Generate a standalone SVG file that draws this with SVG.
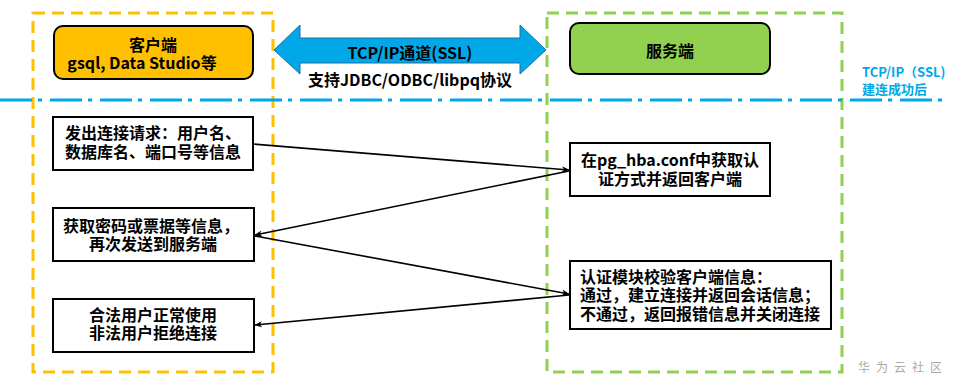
<svg xmlns="http://www.w3.org/2000/svg" width="956" height="390" viewBox="0 0 956 390">
<style>
text{font-family:"Microsoft YaHei","Noto Sans CJK SC",sans-serif;font-weight:bold;}
.t{font-size:16px;fill:#000;text-anchor:middle;}
.tl{font-size:16px;fill:#000;}
.box{fill:#fff;stroke:#000;stroke-width:2;}
.lane{fill:none;stroke-width:3;stroke-dasharray:12 7;}
.conn{fill:none;stroke:#000;stroke-width:1.6;marker-end:url(#ah);}
.blue{fill:#00A8E8;font-size:13px;}
</style>
<defs>
<marker id="ah" viewBox="0 0 10 10" refX="9" refY="5" markerWidth="8" markerHeight="8" markerUnits="userSpaceOnUse" orient="auto">
<path d="M0,1 L10,5 L0,9 L3,5 Z" fill="#000"/>
</marker>
</defs>
<rect width="956" height="390" fill="#fff"/>
<g id="lanes">
<rect id="client-lane" class="lane" x="33" y="13" width="240" height="359" stroke="#FFC000"/>
<rect id="server-lane" class="lane" x="547" y="13" width="295" height="359" stroke="#92D050"/>
</g>
<line id="separator" x1="0" y1="100" x2="945" y2="100" stroke="#00A8E8" stroke-width="3" stroke-dasharray="32 6 4 8"/>
<g id="sep-label">
<text class="blue" x="862" y="77">TCP/IP（SSL)<tspan x="862" dy="17">建连成功后</tspan></text>
</g>
<g id="channel">
<path d="M274,50 L300,25 L300,38 L520,38 L520,25 L546,50 L520,74 L520,63 L300,63 L300,74 Z" fill="#00A8E8" stroke="#1F6FA8" stroke-width="1"/>
<text class="t" x="410" y="59">TCP/IP通道(SSL)</text>
<text class="t" x="410" y="86">支持JDBC/ODBC/libpq协议</text>
</g>
<g id="client">
<rect x="54" y="26" width="199" height="53" rx="9" fill="#FFC000" stroke="#000" stroke-width="2"/>
<text class="t" x="153" y="51">客户端<tspan x="142" dy="18">gsql, Data Studio等</tspan></text>
</g>
<g id="server">
<rect x="570" y="23" width="200" height="51" rx="9" fill="#92D050" stroke="#000" stroke-width="2"/>
<text class="t" x="670" y="57">服务端</text>
</g>
<g id="c1">
<rect class="box" x="53" y="117" width="200" height="53"/>
<text class="t" x="153" y="139">发出连接请求：用户名、<tspan x="153" dy="19">数据库名、端口号等信息</tspan></text>
</g>
<g id="c2">
<rect class="box" x="53" y="208" width="201" height="53"/>
<text class="t" x="151" y="232">获取密码或票据等信息，<tspan x="153" dy="18">再次发送到服务端</tspan></text>
</g>
<g id="c3">
<rect class="box" x="53" y="299" width="201" height="53"/>
<text class="t" x="153" y="321">合法用户正常使用<tspan x="153" dy="18">非法用户拒绝连接</tspan></text>
</g>
<g id="s1">
<rect class="box" x="570" y="143" width="200" height="53"/>
<text class="t" x="670" y="166">在pg_hba.conf中获取认<tspan x="670" dy="19">证方式并返回客户端</tspan></text>
</g>
<g id="s2">
<rect class="box" x="570" y="261" width="261" height="68"/>
<text class="tl" x="580" y="283">认证模块校验客户端信息：<tspan x="580" dy="18">通过，建立连接并返回会话信息；</tspan><tspan x="580" dy="19">不通过，返回报错信息并关闭连接</tspan></text>
</g>
<g id="connectors">
<line class="conn" x1="253" y1="144" x2="569" y2="170"/>
<line class="conn" x1="569" y1="171" x2="255" y2="235"/>
<line class="conn" x1="255" y1="236" x2="569" y2="294"/>
<line class="conn" x1="569" y1="295" x2="255" y2="325"/>
</g>
<text id="watermark" x="858" y="372" font-size="12" fill="#AAAAAA" style="font-weight:normal" letter-spacing="6">华为云社区</text>
</svg>
